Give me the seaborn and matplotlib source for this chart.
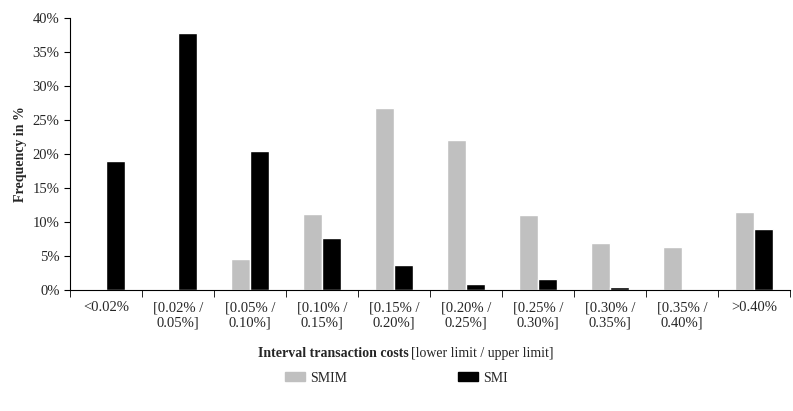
import numpy as np
import pandas as pd
import matplotlib
matplotlib.use("Agg")
import matplotlib.pyplot as plt
import seaborn as sns

categories = ["<0.02%", "[0.02% /\n0.05%]", "[0.05% /\n0.10%]", "[0.10% /\n0.15%]",
              "[0.15% /\n0.20%]", "[0.20% /\n0.25%]", "[0.25% /\n0.30%]",
              "[0.30% /\n0.35%]", "[0.35% /\n0.40%]", ">0.40%"]
smim = [0.0, 0.0, 4.5, 11.2, 26.7, 22.0, 11.1, 6.9, 6.3, 11.4]
smi = [18.9, 37.8, 20.4, 7.6, 3.7, 0.9, 1.6, 0.5, 0.0, 8.9]

df = pd.DataFrame({
    "cat": categories * 2,
    "val": smim + smi,
    "series": ["SMIM"] * len(categories) + ["SMI"] * len(categories),
})

sns.set_style("white")
plt.rcParams["font.family"] = ["Liberation Serif", "DejaVu Serif"]

fig = plt.figure(figsize=(7.93, 4.11), dpi=100)
ax = fig.add_axes([70 / 793, 121 / 411, 720 / 793, 272 / 411])
sns.barplot(data=df, x="cat", y="val", hue="series", order=categories,
            palette={"SMIM": "#c0c0c0", "SMI": "#000000"}, width=0.52,
            saturation=1, ax=ax, legend=False)

ax.set_ylim(0, 40)
ax.set_xlim(-0.5, len(categories) - 0.5)
ax.set_yticks(np.arange(0, 41, 5))
ax.set_yticklabels([f"{v}%" for v in range(0, 41, 5)], fontsize=10.5)
ax.set_xticks(range(len(categories)))
ax.set_xticklabels(categories, fontsize=10.5)
ax.tick_params(axis="x", length=0, pad=8)
ax.set_xticks(np.arange(-0.5, len(categories), 1), minor=True)
ax.tick_params(axis="x", which="minor", length=5, direction="out", bottom=True, color="#000")
ax.tick_params(axis="y", length=4, direction="out", left=True, color="#000")
for s in ["top", "right"]:
    ax.spines[s].set_visible(False)
for s in ["left", "bottom"]:
    ax.spines[s].set_color("#000")
    ax.spines[s].set_linewidth(0.8)
ax.set_xlabel("")
ax.set_ylabel("Frequency in %", fontsize=10, fontweight="bold")

fig.text(409 / 793, 58 / 411, "Interval transaction costs", ha="right", va="center",
         fontsize=10, fontweight="bold")
fig.text(411 / 793, 58 / 411, "[lower limit / upper limit]", ha="left", va="center", fontsize=10)

handles = [plt.Rectangle((0, 0), 1, 1, color="#c0c0c0"), plt.Rectangle((0, 0), 1, 1, color="#000")]
fig.legend(handles, ["SMIM", "SMI"], loc="center", bbox_to_anchor=(0.5, 33 / 411), ncol=2,
           frameon=False, fontsize=10, handlelength=1.4, handleheight=0.6,
           columnspacing=8, handletextpad=0.4)

fig.savefig("out.png", dpi=100)
